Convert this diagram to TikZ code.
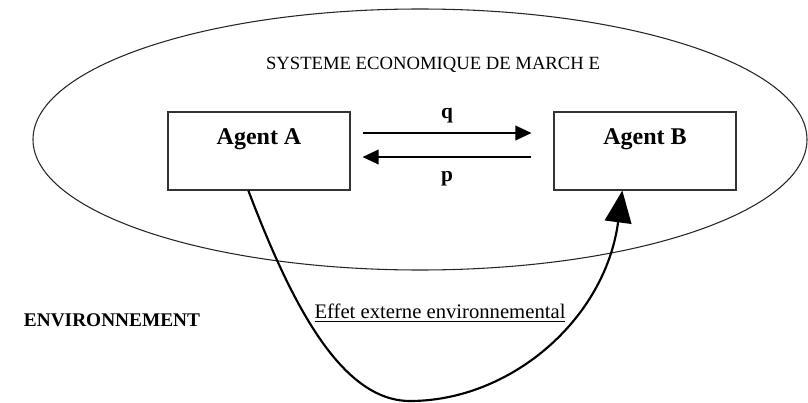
\documentclass[tikz,border=0pt]{standalone}
\usepackage{fontspec}
\setmainfont{Liberation Serif}
\usetikzlibrary{arrows.meta}

\tikzset{
  agentbox/.style={draw=black!80, line width=0.8pt, inner sep=0pt, minimum width=136.5pt,
    text height=24.75pt, text depth=33.75pt, font=\fontsize{18}{20}\selectfont\bfseries},
  flow/.style={line width=1pt, -{Triangle[length=12pt,width=11pt]}},
  effet/.style={line width=1.6pt, -{Triangle[length=24pt,width=20pt]}},
  flowlabel/.style={font=\fontsize{16}{18}\selectfont\bfseries, inner sep=0pt}
}

\begin{document}
\begin{tikzpicture}[x=0.75pt,y=-0.75pt]
\useasboundingbox (0,0) rectangle (808,403);
\draw [black!85, line width=0.8pt] (420,139.5) ellipse [x radius=387, y radius=130.5];
\node (titre) at (433,65) {\fontsize{14}{16}\selectfont SYSTEME ECONOMIQUE DE MARCH E};
\node [agentbox] (agA) at (259,151) {Agent A};
\node [agentbox] (agB) at (645,151) {Agent B};
\draw [flow] ([xshift=9pt,yshift=13.5pt]agA.east) -- node [flowlabel, above=7pt] (q) {q} ([xshift=-16.5pt,yshift=13.5pt]agB.west);
\draw [flow] ([xshift=-16.5pt,yshift=-4.5pt]agB.west) -- node [flowlabel, below=10pt] (p) {p} ([xshift=9pt,yshift=-4.5pt]agA.east);
\coordinate (bas) at (410,401);
\draw [effet] ([xshift=-8pt]agA.south) .. controls (290,300) and (340,401) .. (bas)
  .. controls (510,401) and (605,320) .. ([xshift=-17pt]agB.south);
\node (effet) at (440,313) {\fontsize{15.5}{17}\selectfont\underline{Effet externe environnemental}};
\node (env) at (112,320) {\fontsize{14.5}{16}\selectfont\bfseries ENVIRONNEMENT};
\end{tikzpicture}
\end{document}
